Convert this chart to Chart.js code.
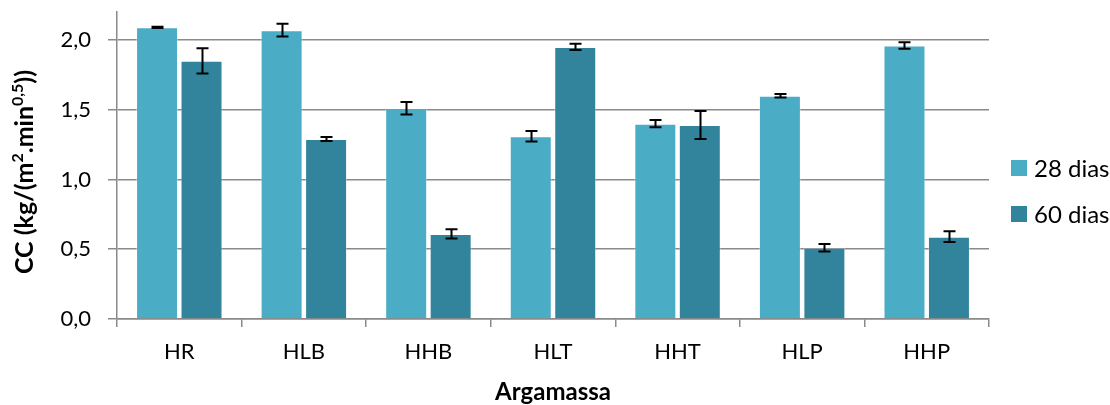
<!DOCTYPE html>
<html>
<head>
<meta charset="utf-8">
<script src="https://cdn.jsdelivr.net/npm/chart.js@4/dist/chart.umd.min.js"></script>
<style>
  html, body { margin: 0; padding: 0; background: #fff; }
  #wrap { width: 1110px; height: 405px; }
</style>
</head>
<body>
<div id="wrap"><canvas id="c" width="1110" height="405"></canvas></div>
<script>
// Capilaridade (CC) por argamassa, aos 28 e 60 dias, com desvio padrão
const categories = ['HR', 'HLB', 'HHB', 'HLT', 'HHT', 'HLP', 'HHP'];
const seriesNames = ['28 dias', '60 dias'];
const values28 = [2.09, 2.07, 1.51, 1.31, 1.40, 1.60, 1.96];
const errors28 = [0.005, 0.045, 0.045, 0.038, 0.026, 0.012, 0.023];
const values60 = [1.85, 1.29, 0.61, 1.95, 1.39, 0.51, 0.59];
const errors60 = [0.091, 0.015, 0.033, 0.023, 0.10, 0.027, 0.039];
const yTicks = [0, 0.5, 1.0, 1.5, 2.0];
const xTitle = 'Argamassa';
const yTitleParts = [['CC (kg/(m', false], ['2', true], ['.min', false], ['0,5', true], ['))', false]];

const colors = ['#4bacc6', '#31849b'];
const FONT = 'Lato, "Open Sans", sans-serif';
const AXIS_GREY = '#8a8a8a';

// Draws the error bars, axis titles and the legend on top of the bars
const extras = {
  id: 'extras',
  afterDatasetsDraw(chart) {
    const ctx = chart.ctx;
    const y = chart.scales.y;
    const errs = [errors28, errors60];
    ctx.save();
    ctx.strokeStyle = '#000';
    ctx.lineWidth = 2;
    chart.data.datasets.forEach((ds, i) => {
      const meta = chart.getDatasetMeta(i);
      meta.data.forEach((el, j) => {
        const v = ds.data[j], e = errs[i][j];
        const y1 = y.getPixelForValue(v + e);
        const y2 = y.getPixelForValue(v - e);
        const x = Math.round(el.x) + 0.5;
        ctx.beginPath();
        ctx.moveTo(x, y1); ctx.lineTo(x, y2);
        ctx.moveTo(x - 6, y1); ctx.lineTo(x + 6, y1);
        ctx.moveTo(x - 6, y2); ctx.lineTo(x + 6, y2);
        ctx.stroke();
      });
    });
    ctx.restore();
  },
  afterDraw(chart) {
    const ctx = chart.ctx;
    const area = chart.chartArea;
    ctx.save();
    ctx.fillStyle = '#000';

    // x axis title
    ctx.font = 'bold 24px ' + FONT;
    ctx.textAlign = 'center';
    ctx.textBaseline = 'middle';
    ctx.fillText(xTitle, (area.left + area.right) / 2, 392);

    // y axis title with superscripts
    const baseFont = 'bold 25px ' + FONT;
    const supFont = 'bold 16px ' + FONT;
    let total = 0;
    yTitleParts.forEach(([t, sup]) => {
      ctx.font = sup ? supFont : baseFont;
      total += ctx.measureText(t).width;
    });
    ctx.translate(24, 172);
    ctx.rotate(-Math.PI / 2);
    ctx.textAlign = 'left';
    ctx.textBaseline = 'alphabetic';
    let x = -total / 2;
    yTitleParts.forEach(([t, sup]) => {
      ctx.font = sup ? supFont : baseFont;
      ctx.fillText(t, x, sup ? -1 : 9);
      x += ctx.measureText(t).width;
    });
    ctx.restore();

    // legend
    ctx.save();
    ctx.font = '24px ' + FONT;
    ctx.textBaseline = 'middle';
    ctx.textAlign = 'left';
    const legendY = [168, 214];
    chart.data.datasets.forEach((ds, i) => {
      ctx.fillStyle = ds.backgroundColor;
      ctx.fillRect(1011, legendY[i] - 8, 16, 16);
      ctx.fillStyle = '#000';
      ctx.fillText(ds.label, 1034, legendY[i] + 1);
    });
    ctx.restore();
  }
};

new Chart(document.getElementById('c'), {
  type: 'bar',
  data: {
    labels: categories,
    datasets: [
      { label: seriesNames[0], data: values28, backgroundColor: colors[0],
        borderColor: 'rgba(255,255,255,0.35)', borderWidth: 1 },
      { label: seriesNames[1], data: values60, backgroundColor: colors[1],
        borderColor: 'rgba(255,255,255,0.35)', borderWidth: 1 }
    ]
  },
  options: {
    responsive: false,
    animation: false,
    events: [],
    categoryPercentage: 0.714,
    barPercentage: 0.944,
    layout: { padding: { left: 0, top: 12, right: 121, bottom: 0 } },
    plugins: { legend: { display: false }, tooltip: { enabled: false } },
    scales: {
      x: {
        afterFit(scale) { scale.height = 86; scale.paddingLeft = 0; scale.paddingRight = 0; },
        grid: { drawOnChartArea: false, drawTicks: true, tickLength: 8,
                color: AXIS_GREY, lineWidth: 1.5, offset: true },
        border: { color: AXIS_GREY, width: 1.5 },
        ticks: { color: '#000', padding: 12, font: { family: FONT, size: 22 } }
      },
      y: {
        min: 0, max: 2.2,
        afterFit(scale) { scale.width = 117; scale.paddingTop = 0; scale.paddingBottom = 0; },
        afterBuildTicks(scale) { scale.ticks = yTicks.map(v => ({ value: v })); },
        grid: { color: AXIS_GREY, lineWidth: 1.5, tickLength: 9, drawTicks: true },
        border: { color: AXIS_GREY, width: 1.5 },
        ticks: {
          color: '#000', padding: 17, font: { family: FONT, size: 22 },
          callback: v => Number(v).toFixed(1).replace('.', ',')
        }
      }
    }
  },
  plugins: [extras]
});
</script>
</body>
</html>
